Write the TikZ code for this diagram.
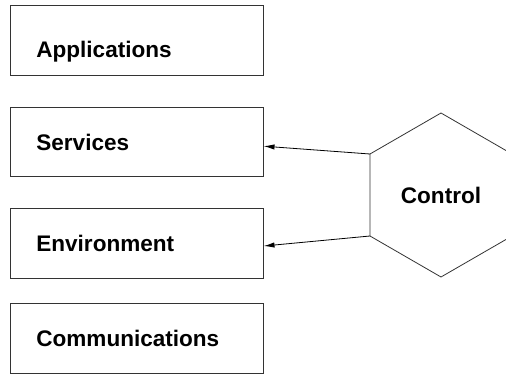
\documentclass[tikz,border=0pt]{standalone}
\usepackage{fontspec}
\setmainfont{Liberation Sans}
\usetikzlibrary{shapes.geometric, positioning, arrows.meta}
\colorlet{drawColor}{black!80}
\tikzstyle{layer}=[rectangle, draw=drawColor, line width=0.6pt, align=left,
text width=150.75pt, inner xsep=19.5pt, inner ysep=0pt, minimum height=52.5pt,
text height=12pt, text depth=0pt, font=\fontsize{16.9}{20}\selectfont\bfseries]
\tikzstyle{control}=[regular polygon, regular polygon sides=6, shape border rotate=30,
minimum size=123pt, inner sep=0pt, outer sep=0pt, draw=drawColor, line width=0.6pt,
font=\fontsize{16.9}{20}\selectfont\bfseries]
\tikzstyle{arrow}=[-{Latex[length=8pt,width=4pt]}, line width=0.6pt, draw=black]

\begin{document}
\begin{tikzpicture}[node distance=23.5pt]
      \clip (0,0) rectangle (379.5pt,-280.5pt);
      \node(apps) [layer, anchor=north west, text height=25.5pt] at (7.5pt,-3.75pt) {Applications};
      \node(services) [layer, below=of apps, minimum height=52pt] {Services};
      \node(env) [layer, below=23.25pt of services, minimum height=52pt] {Environment};
      \node(comms) [layer, below=18.5pt of env] {Communications};
      \node(ctrl) [control] at (330.75pt,-146.25pt) {Control};
      \draw [arrow] (ctrl.150) -- ([yshift=-3pt]services.east);
      \draw [arrow] (ctrl.210) -- ([yshift=-2pt]env.east);
    \end{tikzpicture}
\end{document}
